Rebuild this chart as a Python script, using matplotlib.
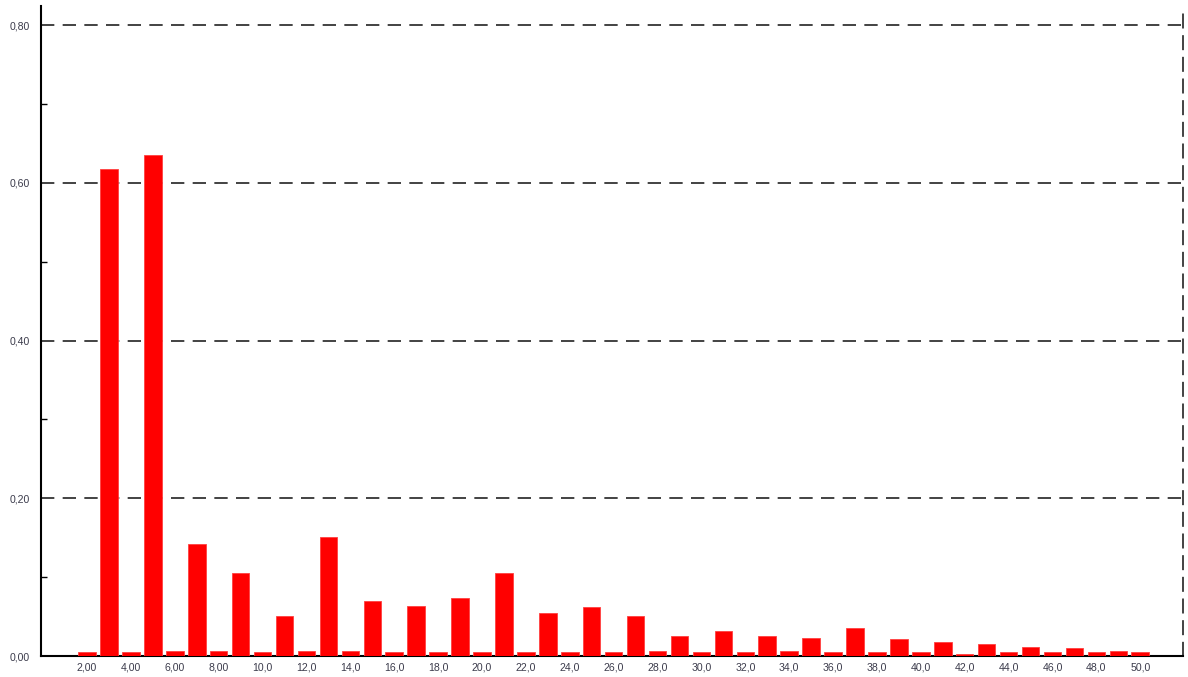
import matplotlib
matplotlib.use('Agg')
import matplotlib.pyplot as plt
from matplotlib.ticker import MultipleLocator, FuncFormatter

# value per integer bin 2..50
bins = list(range(2, 51))
freq = [0.005, 0.617, 0.005, 0.635, 0.0063, 0.142, 0.006, 0.105, 0.005, 0.051,
        0.006, 0.151, 0.006, 0.070, 0.005, 0.064, 0.005, 0.073, 0.005, 0.105,
        0.005, 0.0545, 0.005, 0.062, 0.005, 0.051, 0.0063, 0.026, 0.005, 0.032,
        0.005, 0.026, 0.0063, 0.023, 0.005, 0.036, 0.005, 0.021, 0.005, 0.018,
        0.002, 0.0156, 0.005, 0.012, 0.005, 0.0097, 0.005, 0.0063, 0.005]

xticks = list(range(2, 51, 2))
yticks = [0.0, 0.2, 0.4, 0.6, 0.8]

def fmt3(v):
    # three significant digits, comma decimal
    s = '%.2f' % v if abs(v) < 10 else '%.1f' % v
    return s.replace('.', ',')

fig = plt.figure(figsize=(11.88, 6.77), dpi=100)
ax = fig.add_axes([0.0345, 0.031, 0.9613, 0.960])

ax.bar(bins, freq, width=0.8, color='#ff0000', edgecolor='#ff4040', linewidth=0.6, zorder=3)

ax.set_xlim(-0.1, 51.95)
ax.set_ylim(0, 0.824)
ax.set_xticks(xticks)
ax.set_xticklabels([fmt3(v) for v in xticks])
ax.set_yticks(yticks)
ax.yaxis.set_major_formatter(FuncFormatter(lambda v, p: fmt3(v)))
ax.yaxis.set_minor_locator(MultipleLocator(0.1))

lab_col = '#3b3b4b'
ax.tick_params(axis='x', length=0, pad=5, labelsize=7.6, labelcolor=lab_col)
ax.tick_params(axis='y', which='major', length=0, pad=8, labelsize=7.6, labelcolor=lab_col)
ax.tick_params(axis='y', which='minor', direction='in', length=4, width=1, color='black')

ax.grid(axis='y', which='major', color='#222222', linestyle=(0, (8, 5)), linewidth=1.2, zorder=1)

ax.spines['top'].set_visible(False)
ax.spines['left'].set_linewidth(1.5)
ax.spines['bottom'].set_linewidth(1.5)
ax.spines['right'].set_linestyle((0, (8, 5)))
ax.spines['right'].set_color('#222222')
ax.spines['right'].set_linewidth(1.2)

for t in ax.get_xticklabels() + ax.get_yticklabels():
    t.set_fontfamily('Liberation Sans')

fig.savefig('out.png', dpi=100)
